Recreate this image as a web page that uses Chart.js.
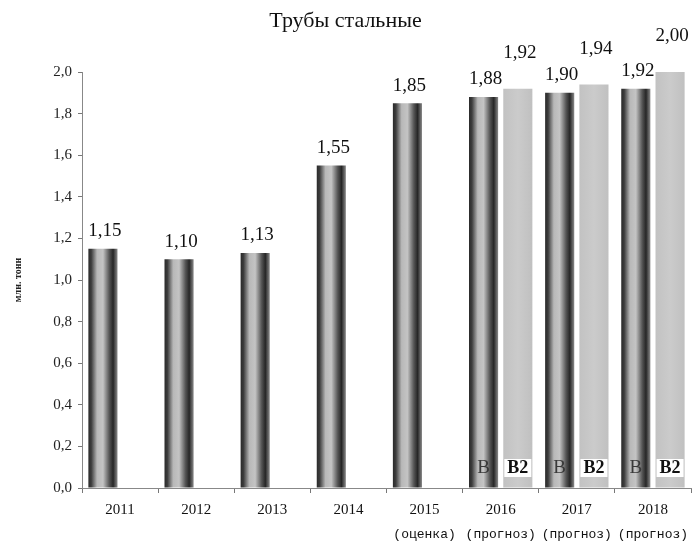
<!DOCTYPE html>
<html lang="ru">
<head>
  <meta charset="UTF-8">
  <title>Трубы стальные</title>
  <script src="https://cdn.jsdelivr.net/npm/chart.js"></script>
  <style>
    html, body { margin: 0; padding: 0; background: #fff; }
    .wrap { width: 693px; height: 549px; }
  </style>
</head>
<body>
  <div class="wrap"><canvas id="trubyChart" width="693" height="549"></canvas></div>

  <script>
    // данные
    const labels = ['2011', '2012', '2013', '2014', '2015', '2016', '2017', '2018'];
    const notes = ['', '', '', '', '(оценка)', '(прогноз)', '(прогноз)', '(прогноз)'];
    const valuesB = [1.15, 1.10, 1.13, 1.55, 1.85, 1.88, 1.90, 1.92];
    const valuesB2 = [null, null, null, null, null, 1.92, 1.94, 2.00];
    const seriesNames = ['B', 'B2'];
    const yTicks = [0, 0.2, 0.4, 0.6, 0.8, 1.0, 1.2, 1.4, 1.6, 1.8, 2.0];

    const serif = '"Liberation Serif", "Times New Roman", serif';
    const catPct = 0.9, barPct = 0.85;

    // цилиндрическая заливка столбцов
    function barFill(ctx) {
      const chart = ctx.chart;
      const xs = chart.scales.x;
      if (ctx.type !== 'data' || !xs || !isFinite(xs.width) || xs.width <= 0) return '#888';
      const slot = xs.width / labels.length * catPct / 2;
      const w = slot * barPct;
      const c = xs.getPixelForValue(ctx.dataIndex) + (ctx.datasetIndex === 0 ? -slot / 2 : slot / 2);
      if (!isFinite(c)) return '#888';
      const g = chart.ctx.createLinearGradient(c - w / 2, 0, c + w / 2, 0);
      if (ctx.datasetIndex === 0) {
        g.addColorStop(0, '#2a2a2a');
        g.addColorStop(0.1, '#3c3c3c');
        g.addColorStop(0.3, '#b8b8b8');
        g.addColorStop(0.5, '#c4c4c4');
        g.addColorStop(0.72, '#555');
        g.addColorStop(0.85, '#262626');
        g.addColorStop(1, '#8a8a8a');
      } else {
        g.addColorStop(0, '#c2c2c2');
        g.addColorStop(0.5, '#cbcbcb');
        g.addColorStop(1, '#c0c0c0');
      }
      return g;
    }

    // подписи значений, вариантов и примечаний под годами
    const labelsPlugin = {
      id: 'labelsPlugin',
      afterDatasetsDraw(chart) {
        const c = chart.ctx;
        c.save();
        chart.data.datasets.forEach((ds, di) => {
          const meta = chart.getDatasetMeta(di);
          meta.data.forEach((bar, i) => {
            const v = ds.data[i];
            if (v == null) return;
            c.font = '19px ' + serif;
            c.fillStyle = '#111';
            c.textAlign = 'center';
            c.textBaseline = 'bottom';
            c.fillText(v.toFixed(2).replace('.', ','), bar.x + 2, bar.y - (di === 0 ? 8 : 26));
          });
        });
        // B / B2 внизу столбцов прогноза
        const mB = chart.getDatasetMeta(0), mB2 = chart.getDatasetMeta(1);
        valuesB2.forEach((v, i) => {
          if (v == null) return;
          const y = chart.scales.y.getPixelForValue(0) - 20;
          c.textAlign = 'center';
          c.textBaseline = 'middle';
          c.font = '19px ' + serif;
          c.fillStyle = '#3a3a3a';
          c.fillText(seriesNames[0], mB.data[i].x, y);
          c.font = 'bold 18px ' + serif;
          const tw = c.measureText(seriesNames[1]).width;
          c.fillStyle = '#fff';
          c.fillRect(mB2.data[i].x - tw / 2 - 3, y - 9, tw + 6, 18);
          c.fillStyle = '#111';
          c.fillText(seriesNames[1], mB2.data[i].x, y);
        });
        c.restore();
      },
      afterDraw(chart) {
        const c = chart.ctx;
        const xs = chart.scales.x;
        c.save();
        c.font = '13px "Liberation Mono", monospace';
        c.fillStyle = '#111';
        c.textAlign = 'center';
        c.textBaseline = 'middle';
        notes.forEach((n, i) => {
          if (n) c.fillText(n, xs.getPixelForValue(i), 535);
        });
        c.restore();
      }
    };

    new Chart(document.getElementById('trubyChart'), {
      type: 'bar',
      data: {
        labels: labels,
        datasets: [
          { label: seriesNames[0], data: valuesB, backgroundColor: barFill, borderWidth: 0,
            categoryPercentage: catPct, barPercentage: barPct },
          { label: seriesNames[1], data: valuesB2, backgroundColor: barFill, borderWidth: 0,
            categoryPercentage: catPct, barPercentage: barPct }
        ]
      },
      options: {
        responsive: false,
        animation: false,
        layout: { padding: { left: 0, right: 2, top: 0, bottom: 0 } },
        plugins: {
          legend: { display: false },
          tooltip: { enabled: false },
          title: {
            display: true,
            text: 'Трубы стальные',
            color: '#111',
            font: { family: serif, size: 22, weight: 'normal' },
            padding: { top: 8, bottom: 37.6 }
          }
        },
        scales: {
          x: {
            afterFit: s => { s.height = 61; },
            grid: { drawOnChartArea: false, drawTicks: true, tickLength: 5, color: '#777' },
            border: { color: '#888', dash: [1, 1] },
            ticks: { color: '#111', padding: 8, font: { family: serif, size: 15 } }
          },
          y: {
            min: 0,
            max: 2.0,
            afterFit: s => { s.width = 82; },
            afterBuildTicks: s => { s.ticks = yTicks.map(v => ({ value: v })); },
            grid: { drawOnChartArea: false, drawTicks: true, tickLength: 4, color: '#777' },
            border: { color: '#888', dash: [1, 1] },
            ticks: {
              color: '#222',
              padding: 6,
              font: { family: serif, size: 15 },
              callback: v => v.toFixed(1).replace('.', ',')
            },
            title: {
              display: true,
              text: 'млн. тонн',
              color: '#222',
              font: { family: serif, size: 10, weight: 'bold' },
              padding: { top: 12, bottom: 0 }
            }
          }
        }
      },
      plugins: [labelsPlugin]
    });
  </script>
</body>
</html>
